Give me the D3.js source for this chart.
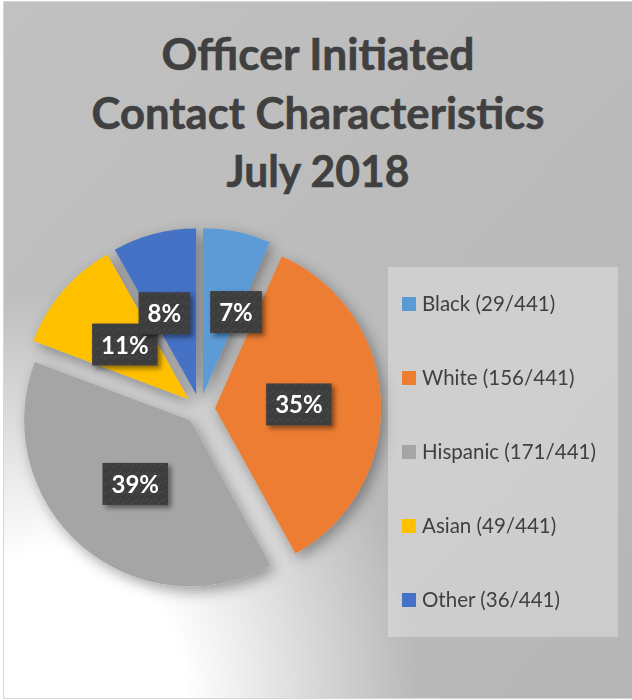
<!DOCTYPE html>
<meta charset="utf-8">
<script src="https://d3js.org/d3.v7.min.js"></script>
<style>
  body { margin: 0; background: #fff; }
  text { font-family: Lato, "Open Sans", sans-serif; }
</style>
<div id="chart"></div>
<script>
    // Data
    const groups = ["Black", "White", "Hispanic", "Asian", "Other"];
    const counts = [29, 156, 171, 49, 36];
    const total = 441;
    const colors = ["#5B9BD5", "#ED7D31", "#A5A5A5", "#FFC000", "#4472C4"];
    const titleLines = ["Officer Initiated", "Contact Characteristics", "July 2018"];

    const W = 632, H = 700;
    const cx = 200, cy = 409, radius = 166, explode = 15;

    const svg = d3.select("#chart")
                  .append("svg")
                  .attr("width", W)
                  .attr("height", H);

    const defs = svg.append("defs");

    // background gradients
    const lin = defs.append("linearGradient").attr("id", "bgLin")
                    .attr("x1", 0).attr("y1", 0).attr("x2", 1).attr("y2", 1);
    lin.append("stop").attr("offset", "0%").attr("stop-color", "#c1c1c1");
    lin.append("stop").attr("offset", "100%").attr("stop-color", "#b6b6b6");

    const rad = defs.append("radialGradient").attr("id", "bgRad")
                    .attr("cx", 0.08).attr("cy", 1).attr("r", 0.58)
                    .attr("fx", 0.08).attr("fy", 1);
    rad.append("stop").attr("offset", "0%").attr("stop-color", "#fff").attr("stop-opacity", 1);
    rad.append("stop").attr("offset", "36%").attr("stop-color", "#fff").attr("stop-opacity", 1);
    rad.append("stop").attr("offset", "100%").attr("stop-color", "#fff").attr("stop-opacity", 0);

    // shadows
    const sh = defs.append("filter").attr("id", "pieShadow")
                   .attr("x", "-20%").attr("y", "-20%").attr("width", "140%").attr("height", "140%");
    sh.append("feDropShadow").attr("dx", 4).attr("dy", 5).attr("stdDeviation", 7)
      .attr("flood-color", "#000").attr("flood-opacity", 0.35);

    const lsh = defs.append("filter").attr("id", "labelShadow")
                    .attr("x", "-30%").attr("y", "-30%").attr("width", "160%").attr("height", "160%");
    lsh.append("feDropShadow").attr("dx", 3).attr("dy", 3).attr("stdDeviation", 2.5)
       .attr("flood-color", "#000").attr("flood-opacity", 0.45);

    // faint texture on label boxes
    const pat = defs.append("pattern").attr("id", "tex")
                    .attr("width", 9).attr("height", 9)
                    .attr("patternUnits", "userSpaceOnUse");
    pat.append("rect").attr("width", 9).attr("height", 9).attr("fill", "#3c3c3c");
    pat.append("path").attr("d", "M1,7 L4,3 M5,9 L8,5")
       .attr("stroke", "#4a4a4a").attr("stroke-width", 1.2);

    // chart area
    svg.append("rect")
       .attr("x", 3.5).attr("y", 1.5)
       .attr("width", W + 10).attr("height", H - 3)
       .attr("fill", "url(#bgLin)")
       .attr("stroke", "#d6d6d6");
    svg.append("rect")
       .attr("x", 4).attr("y", 2)
       .attr("width", W - 4).attr("height", H - 4)
       .attr("fill", "url(#bgRad)");

    // title
    const titleWidths = [313, 453, 183];
    svg.append("g").selectAll("text")
       .data(titleLines)
       .join("text")
         .attr("x", 318)
         .attr("y", (d, i) => 70 + i * 58.5)
         .attr("text-anchor", "middle")
         .attr("font-size", 44)
         .attr("font-weight", 700)
         .attr("fill", "#404040")
         .attr("stroke", "#404040")
         .attr("stroke-width", 0.6)
         .attr("textLength", (d, i) => titleWidths[i])
         .attr("lengthAdjust", "spacingAndGlyphs")
         .text(d => d);

    // pie
    const data = groups.map((g, i) => ({ group: g, value: counts[i], color: colors[i] }));
    const pie = d3.pie().sort(null).value(d => d.value);
    const arcs = pie(data);
    const arc = d3.arc().innerRadius(0).outerRadius(radius);

    arcs.forEach(a => {
        a.mid = (a.startAngle + a.endAngle) / 2;
        a.ox = cx + explode * Math.sin(a.mid);
        a.oy = cy - explode * Math.cos(a.mid);
    });

    svg.append("g")
       .attr("filter", "url(#pieShadow)")
       .selectAll("path")
       .data(arcs)
       .join("path")
         .attr("transform", d => `translate(${d.ox}, ${d.oy})`)
         .attr("d", arc)
         .attr("fill", d => d.data.color);

    // data labels
    const labelR = 84;
    const fmt = d => Math.round(d.value / total * 100) + "%";
    const labels = svg.append("g");
    const items = arcs.map(a => {
        const t = labels.append("g").attr("filter", "url(#labelShadow)");
        const txt = t.append("text")
                     .attr("text-anchor", "middle")
                     .attr("font-size", 24)
                     .attr("font-weight", 700)
                     .attr("fill", "#fff")
                     .text(fmt(a.data));
        const w = txt.node().getComputedTextLength() + 18;
        return { a: a, g: t, txt: txt, w: w, h: 42,
                 x: a.ox + labelR * Math.sin(a.mid),
                 y: a.oy - labelR * Math.cos(a.mid) };
    });

    // the two labels either side of 12 o'clock get pushed apart
    const first = items[0], last = items[items.length - 1];
    const need = (first.w + last.w) / 2 + 20 - (first.x - last.x);
    if (need > 0) { first.x += need * 0.6; last.x -= need * 0.4; }

    items.forEach(it => {
        it.g.insert("rect", "text")
            .attr("x", it.x - it.w / 2).attr("y", it.y - it.h / 2)
            .attr("width", it.w).attr("height", it.h)
            .attr("fill", "url(#tex)");
        it.txt.attr("x", it.x).attr("y", it.y + 9);
    });

    // legend
    const lg = svg.append("g");
    lg.append("rect")
      .attr("x", 388).attr("y", 267)
      .attr("width", 230).attr("height", 370)
      .attr("fill", "#fff").attr("fill-opacity", 0.3);

    const rowY = d3.scalePoint().domain(groups).range([304, 600]);

    const row = lg.selectAll("g.item")
                  .data(data)
                  .join("g")
                    .attr("class", "item")
                    .attr("transform", d => `translate(402, ${rowY(d.group)})`);
    row.append("rect")
       .attr("x", 0).attr("y", -7)
       .attr("width", 14).attr("height", 14)
       .attr("fill", d => d.color);
    row.append("text")
       .attr("x", 20).attr("y", 7)
       .attr("font-size", 20.5)
       .attr("fill", "#404040")
       .text(d => `${d.group} (${d.value}/${total})`);
</script>
